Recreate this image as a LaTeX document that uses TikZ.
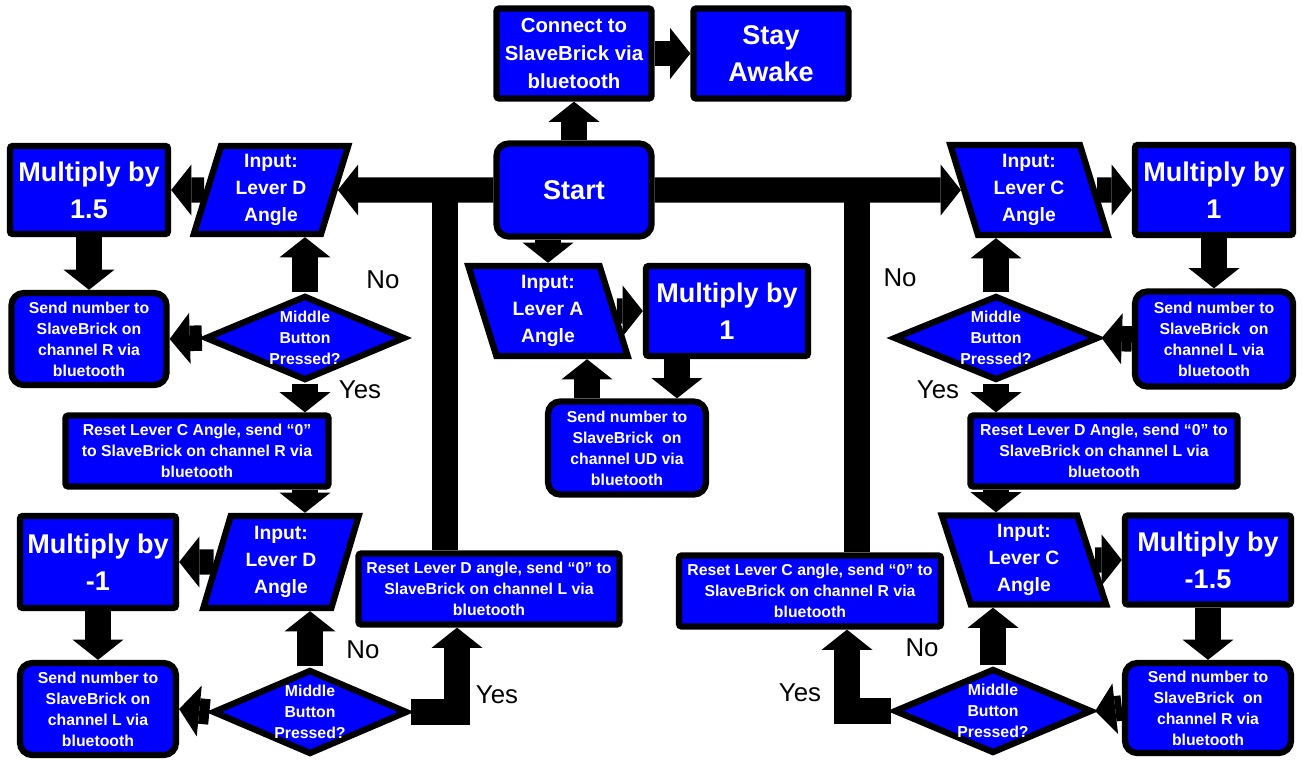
\documentclass[tikz,border=0pt]{standalone}
\usepackage{fontspec}
\setmainfont{Liberation Sans}
\usetikzlibrary{arrows.meta}
\usetikzlibrary{shapes.geometric}
\usetikzlibrary{positioning}
\definecolor{fcblue}{RGB}{0,0,255}

\begin{document}
\begin{tikzpicture}[x=0.02cm,y=-0.02cm,
    blk/.style={draw=black,fill=fcblue,line width=3.6pt,text=white,align=center,inner sep=0pt},
    procbox/.style={blk,rectangle,rounded corners=1.5pt},
    sendbox/.style={blk,rectangle,rounded corners=7pt},
    inbox/.style={blk,trapezium,trapezium stretches=true},
    inl/.style={inbox,trapezium left angle=75,trapezium right angle=105},
    inr/.style={inbox,trapezium left angle=105,trapezium right angle=75},
    askbox/.style={blk,diamond,aspect=2.3},
    bigtxt/.style={font=\bfseries\fontsize{15.4}{21}\selectfont},
    midtxt/.style={font=\bfseries\fontsize{11}{15.5}\selectfont},
    conntxt/.style={font=\bfseries\fontsize{11.6}{16}\selectfont},
    smalltxt/.style={font=\bfseries\fontsize{9}{12}\selectfont},
    yn/.style={font=\fontsize{14.7}{17}\selectfont},
    arr/.style={line width=14.5pt,line join=miter,-{Triangle[width=29pt,length=11.5pt,line width=0pt]}},
    bar/.style={line width=14.5pt}]
  \useasboundingbox (0,0) rectangle (1302,761);

  % top row
  \node[procbox,conntxt,minimum width=3.1cm,minimum height=1.8cm] (conn) at (574,53.5) {Connect to\\SlaveBrick via\\bluetooth};
  \node[procbox,bigtxt,minimum width=3.1cm,minimum height=1.8cm] (awake) at (771,53.5) {Stay\\Awake};
  \node[sendbox,bigtxt,minimum width=3.1cm,minimum height=1.86cm] (start) at (574,190) {Start};

  % left, upper loop
  \node[inl,midtxt,minimum width=3.1cm,minimum height=1.76cm] (inD1) at (271,190) {Input:\\Lever D\\Angle};
  \node[procbox,bigtxt,minimum width=3.16cm,minimum height=1.76cm] (mul15) at (89,190) {Multiply by\\1.5};
  \node[sendbox,smalltxt,minimum width=3.1cm,minimum height=1.84cm] (sendR1) at (89,339) {Send number to\\SlaveBrick on\\channel R via\\bluetooth};
  \node[askbox,smalltxt,minimum width=4cm,minimum height=1.7cm] (dec1) at (305,338) {Middle\\Button\\Pressed?};
  \node[procbox,smalltxt,minimum width=5.26cm,minimum height=1.42cm] (resetC1) at (197,451) {Reset Lever C Angle, send “0”\\to SlaveBrick on channel R via\\bluetooth};

  % left, lower loop
  \node[inl,midtxt,minimum width=3.12cm,minimum height=1.84cm] (inD2) at (281,562) {Input:\\Lever D\\Angle};
  \node[procbox,bigtxt,minimum width=3.12cm,minimum height=1.84cm] (mulm1) at (98,562) {Multiply by\\-1};
  \node[sendbox,smalltxt,minimum width=3.12cm,minimum height=1.84cm] (sendL1) at (98,709) {Send number to\\SlaveBrick on\\channel L via\\bluetooth};
  \node[askbox,smalltxt,minimum width=3.76cm,minimum height=1.66cm] (dec2) at (310,712) {Middle\\Button\\Pressed?};
  \node[procbox,smalltxt,minimum width=5.22cm,minimum height=1.42cm] (resetD1) at (489,589) {Reset Lever D angle, send “0” to\\SlaveBrick on channel L via\\bluetooth};

  % middle loop
  \node[inr,midtxt,minimum width=3.2cm,minimum height=1.8cm] (inA) at (548,311) {Input:\\Lever A\\Angle};
  \node[procbox,bigtxt,minimum width=3.24cm,minimum height=1.8cm] (mul1c) at (727,311) {Multiply by\\1};
  \node[sendbox,smalltxt,minimum width=3.16cm,minimum height=1.86cm] (sendUD) at (627,448) {Send number to\\SlaveBrick\ \ on\\channel UD via\\bluetooth};

  % right, upper loop
  \node[inr,midtxt,minimum width=3.16cm,minimum height=1.8cm] (inC1) at (1029,190) {Input:\\Lever C\\Angle};
  \node[procbox,bigtxt,minimum width=3.16cm,minimum height=1.8cm] (mul1r) at (1214,190) {Multiply by\\1};
  \node[sendbox,smalltxt,minimum width=3.16cm,minimum height=1.9cm] (sendL2) at (1214,339) {Send number to\\SlaveBrick\ \ on\\channel L via\\bluetooth};
  \node[askbox,smalltxt,minimum width=4.1cm,minimum height=1.68cm] (dec3) at (996,338) {Middle\\Button\\Pressed?};
  \node[procbox,smalltxt,minimum width=5.34cm,minimum height=1.42cm] (resetD2) at (1104,451) {Reset Lever D Angle, send “0” to\\SlaveBrick on channel L via\\bluetooth};

  % right, lower loop
  \node[inr,midtxt,minimum width=3.3cm,minimum height=1.78cm] (inC2) at (1024,560) {Input:\\Lever C\\Angle};
  \node[procbox,bigtxt,minimum width=3.32cm,minimum height=1.78cm] (mulm15) at (1208,560) {Multiply by\\-1.5};
  \node[sendbox,smalltxt,minimum width=3.32cm,minimum height=1.8cm] (sendR2) at (1208,708) {Send number to\\SlaveBrick\ \ on\\channel R via\\bluetooth};
  \node[askbox,smalltxt,minimum width=3.96cm,minimum height=1.6cm] (dec4) at (993,711) {Middle\\Button\\Pressed?};
  \node[procbox,smalltxt,minimum width=5.24cm,minimum height=1.42cm] (resetC2) at (810,591) {Reset Lever C angle, send “0” to\\SlaveBrick on channel R via\\bluetooth};

  % yes / no
  \node[yn] (no1) at (383,280) {No};
  \node[yn] (yes1) at (360,390) {Yes};
  \node[yn] (no2) at (363,650) {No};
  \node[yn] (yes2) at (497,695) {Yes};
  \node[yn] (no3) at (900,278) {No};
  \node[yn] (yes3) at (938,390) {Yes};
  \node[yn] (no4) at (922,648) {No};
  \node[yn] (yes4) at (800,693) {Yes};

  \coordinate (jl) at (445,190);
  \coordinate (jr) at (857,190);

  % trunk
  \draw[arr] (start) -- (conn);
  \draw[arr] (conn.east) -- (awake.west);
  \draw[arr] (start.west) -- (inD1.east);
  \draw[arr] (start.east) -- (inC1.west);
  \draw[bar] (resetD1.north -| jl) -- (jl);
  \draw[bar] (resetC2.north -| jr) -- (jr);
  \draw[arr] (start.south -| inA.north) -- (inA.north);

  % middle
  \draw[arr] (inA.east) -- (mul1c.west);
  \draw[arr] ([xshift=-1cm]mul1c.south) -- ([xshift=-1cm]mul1c.south |- sendUD.north);
  \draw[arr] ([xshift=-0.8cm]sendUD.north) -- ([xshift=-0.8cm]sendUD.north |- inA.south);

  % left
  \draw[arr] (inD1.west) -- (mul15.east);
  \draw[arr] (mul15) -- (sendR1);
  \draw[arr] (dec1.west) -- (sendR1.east);
  \draw[arr] (dec1.north) -- (dec1.north |- inD1.south);
  \draw[arr] (dec1.south) -- (dec1.south |- resetC1.north);
  \draw[arr] (dec1.south |- resetC1.south) -- (dec1.south |- inD2.north);
  \draw[arr] (inD2.west) -- (mulm1.east);
  \draw[arr] (mulm1) -- (sendL1);
  \draw[arr] (dec2.west) -- (sendL1.east);
  \draw[arr] (dec2.north) -- (dec2.north |- inD2.south);
  \draw[arr] (dec2.east) -| ([xshift=-0.64cm]resetD1.south);

  % right
  \draw[arr] (inC1.east) -- (mul1r.west);
  \draw[arr] (mul1r) -- (sendL2);
  \draw[arr] (sendL2.west) -- (dec3.east);
  \draw[arr] (dec3.north) -- (dec3.north |- inC1.south);
  \draw[arr] (dec3.south) -- (dec3.south |- resetD2.north);
  \draw[arr] (dec3.south |- resetD2.south) -- (dec3.south |- inC2.north);
  \draw[arr] (inC2.east) -- (mulm15.west);
  \draw[arr] (mulm15) -- (sendR2);
  \draw[arr] (sendR2.west) -- (dec4.east);
  \draw[arr] (dec4.north) -- (dec4.north |- inC2.south);
  \draw[arr] (dec4.west) -| ([xshift=0.74cm]resetC2.south);
\end{tikzpicture}
\end{document}
